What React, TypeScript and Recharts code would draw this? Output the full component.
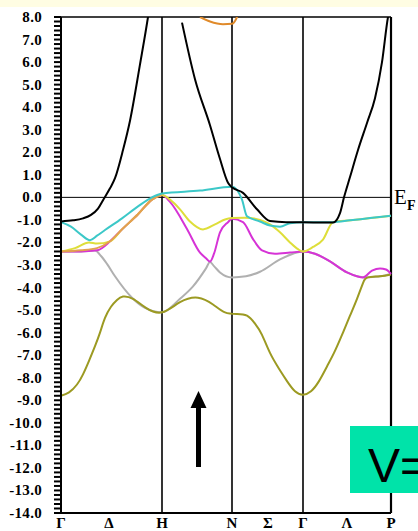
import { LineChart, Line, XAxis, YAxis, ReferenceLine } from 'recharts';

// k positions of the high-symmetry points along the path
const kPoints = [0, 48, 101, 171, 207, 242, 286, 330];
const kLabels = ['Γ', 'Δ', 'H', 'N', 'Σ', 'Γ', 'Λ', 'P'];
const symLines = [101, 171, 242];
const energyLabels = [8, 7, 6, 5, 4, 3, 2, 1, 0, -1, -2, -3, -4, -5, -6, -7, -8, -9, -10, -11, -12, -13, -14];

// bands as [k, E(eV)]
const olive = [[0, -8.8], [8, -8.65], [16, -8.3], [22, -7.85], [28, -7.25], [34, -6.6], [39, -6.0], [44, -5.35], [50, -4.85], [56, -4.55], [62, -4.4], [72, -4.5], [85, -4.9], [101, -5.1], [119, -4.65], [137, -4.45], [152, -4.75], [164, -5.1], [176, -5.17], [186, -5.25], [194, -5.6], [201, -6.1], [209, -6.9], [218, -7.6], [226, -8.15], [234, -8.6], [242, -8.75], [250, -8.6], [258, -8.15], [266, -7.5], [273, -6.9], [281, -6.1], [289, -5.25], [296, -4.5], [302, -3.8], [307, -3.55], [319, -3.5], [330, -3.42]];
const grey = [[0, -2.4], [20, -2.4], [34, -2.36], [40, -2.6], [46, -2.95], [54, -3.5], [71, -4.45], [84, -4.9], [101, -5.1], [119, -4.5], [132, -3.95], [145, -3.15], [149, -2.87], [153, -3.05], [159, -3.33], [171, -3.55], [185, -3.5], [199, -3.3], [219, -2.75], [232, -2.5], [242, -2.4], [254, -2.5], [269, -2.84], [286, -3.33], [296, -3.5], [304, -3.55], [319, -3.5], [330, -3.4]];
const magenta = [[0, -2.4], [20, -2.4], [36, -2.35], [49, -1.95], [61, -1.42], [77, -0.75], [91, -0.1], [101, 0.1], [109, -0.2], [126, -1.4], [139, -2.45], [145, -2.7], [149, -2.85], [153, -2.5], [159, -1.55], [167, -1.1], [171, -0.95], [182, -1.1], [192, -1.85], [201, -2.35], [214, -2.5], [229, -2.45], [242, -2.4], [254, -2.5], [269, -2.84], [286, -3.33], [296, -3.5], [302, -3.55], [311, -3.25], [319, -3.15], [325, -3.2], [330, -3.4]];
const yellow = [[0, -2.4], [14, -2.25], [28, -2.0], [36, -2.05], [49, -1.95], [61, -1.42], [77, -0.75], [91, -0.1], [101, 0.1], [109, -0.1], [119, -0.53], [129, -1.07], [142, -1.42], [154, -1.2], [164, -0.98], [171, -0.92], [184, -0.9], [199, -1.0], [209, -1.2], [219, -1.55], [229, -2.0], [237, -2.3], [242, -2.4], [252, -2.2], [262, -1.87], [272, -1.1], [290, -1.02], [310, -0.92], [330, -0.82]];
const orange = [[0, -2.4], [20, -2.35], [36, -2.25], [49, -1.95], [61, -1.42], [77, -0.75], [91, -0.1], [101, 0.1]];
const orangeTop = [[139, 8.0], [149, 7.8], [162, 7.68], [171, 7.7], [175, 7.9], [177, 8.1]];
const cyan = [[0, -1.1], [10, -1.3], [20, -1.65], [29, -1.9], [36, -1.7], [44, -1.45], [61, -0.93], [77, -0.4], [91, 0.0], [101, 0.17], [139, 0.3], [171, 0.47], [181, -0.1], [186, -0.84], [199, -1.07], [209, -1.25], [219, -1.3], [229, -1.15], [242, -1.1], [272, -1.1], [289, -1.02], [309, -0.92], [330, -0.82]];
const blackA = [[0, -1.07], [12, -1.02], [22, -0.93], [30, -0.78], [37, -0.5], [43, -0.05], [49, 0.4], [54, 0.85], [62, 2.1], [69, 3.4], [79, 5.9], [87, 8.0], [95, 10.5]];
const blackB = [[121, 7.75], [134, 5.24], [149, 3.2], [159, 1.7], [167, 0.65], [171, 0.45], [182, 0.2], [196, -0.53], [209, -1.05], [225, -1.1], [242, -1.1], [272, -1.12], [279, -0.7], [283, 0], [289, 0.9], [297, 2.1], [306, 3.3], [314, 4.4], [321, 6], [327, 8], [330, 8.6]];

const bands = [
  { name: 'grey', pts: grey, color: '#b0b0b0', curve: 'monotone' },
  { name: 'olive', pts: olive, color: '#9c9a22', curve: 'natural' },
  { name: 'magenta', pts: magenta, color: '#d633d6', curve: 'monotone' },
  { name: 'yellow', pts: yellow, color: '#dede3a', curve: 'monotone' },
  { name: 'orange', pts: orange, color: '#e3a050', curve: 'monotone' },
  { name: 'orangeTop', pts: orangeTop, color: '#e08a2a', curve: 'monotone' },
  { name: 'cyan', pts: cyan, color: '#3cc8c8', curve: 'monotone' },
  { name: 'blackA', pts: blackA, color: '#000000', curve: 'monotone' },
  { name: 'blackB', pts: blackB, color: '#000000', curve: 'monotone' },
];

const minorTicks: number[] = [];
for (let i = -70; i <= 40; i++) minorTicks.push(i / 5);

const serif = '"Liberation Serif", "Times New Roman", serif';

const YTick = (props: any) => {
  const { x, y, payload } = props;
  const v = payload.value;
  const major = energyLabels.some((e) => Math.abs(e - v) < 0.001);
  return (
    <g>
      <line x1={x - 7} x2={x} y1={y} y2={y} stroke="#000" strokeWidth={2} />
      {major && (
        <text x={x - 19} y={y} textAnchor="end" dominantBaseline="central" fontFamily={serif} fontWeight="bold" fontSize={15} letterSpacing={0.3} fill="#000">
          {v.toFixed(1)}
        </text>
      )}
    </g>
  );
};

const XTick = (props: any) => {
  const { x, y, payload } = props;
  const i = kPoints.indexOf(payload.value);
  return (
    <text x={x} y={y + 15} textAnchor="middle" fontFamily={serif} fontWeight="bold" fontSize={15} fill="#000">
      {kLabels[i]}
    </text>
  );
};

const EfLabel = (props: any) => {
  const vb = props.viewBox || {};
  const x = vb.x + vb.width + 3;
  const y = vb.y;
  return (
    <g>
      <text x={x} y={y + 7} fontFamily={serif} fontSize={21} fill="#000">E</text>
      <text x={x + 13} y={y + 13} fontFamily={serif} fontWeight="bold" fontSize={14} fill="#000">F</text>
    </g>
  );
};

export default function App() {
  return (
    <div style={{ position: 'absolute', left: 0, top: 0, width: 418, height: 531, overflow: 'hidden', background: '#ffffff' }}>
      <div style={{ position: 'absolute', left: 0, top: 0, width: 418, height: 7, background: '#fffde3' }} />
      <div style={{ position: 'absolute', left: 0, top: 0 }}>
        <LineChart width={418} height={531} margin={{ top: 17, right: 27, bottom: 0, left: 0 }}>
          <XAxis
            type="number"
            dataKey="k"
            domain={[0, 330]}
            ticks={kPoints}
            interval={0}
            tick={<XTick />}
            tickLine={false}
            tickSize={0}
            tickMargin={0}
            height={18}
            axisLine={{ stroke: '#000', strokeWidth: 2 }}
            allowDuplicatedCategory={false}
          />
          <YAxis
            type="number"
            domain={[-14, 8]}
            allowDataOverflow
            ticks={minorTicks}
            interval={0}
            tick={<YTick />}
            tickLine={false}
            tickSize={0}
            tickMargin={0}
            width={61}
            axisLine={{ stroke: '#000', strokeWidth: 2 }}
          />
          <ReferenceLine y={8} stroke="#000" strokeWidth={1.5} />
          <ReferenceLine y={0} stroke="#000" strokeWidth={1} label={<EfLabel />} />
          {symLines.map((k) => (
            <ReferenceLine key={k} x={k} stroke="#000" strokeWidth={1.6} />
          ))}
          <ReferenceLine x={330} stroke="#000" strokeWidth={2.2} />
          {bands.map((b) => (
            <Line
              key={b.name}
              data={b.pts.map(([k, e]) => ({ k, e }))}
              dataKey="e"
              type={b.curve as any}
              stroke={b.color}
              strokeWidth={2}
              dot={false}
              isAnimationActive={false}
            />
          ))}
        </LineChart>
      </div>
      <svg width={418} height={531} style={{ position: 'absolute', left: 0, top: 0, pointerEvents: 'none' }}>
        <polygon points="198.5,391 190.5,408 206.5,408" fill="#000" />
        <rect x={196} y={406} width={5} height={61} fill="#000" />
        <rect x={350} y={426} width={80} height={67} fill="#00e3a9" />
        <text x={368} y={482} fontFamily='"Liberation Sans", Arial, sans-serif' fontSize={48} fill="#000">V=</text>
      </svg>
    </div>
  );
}
